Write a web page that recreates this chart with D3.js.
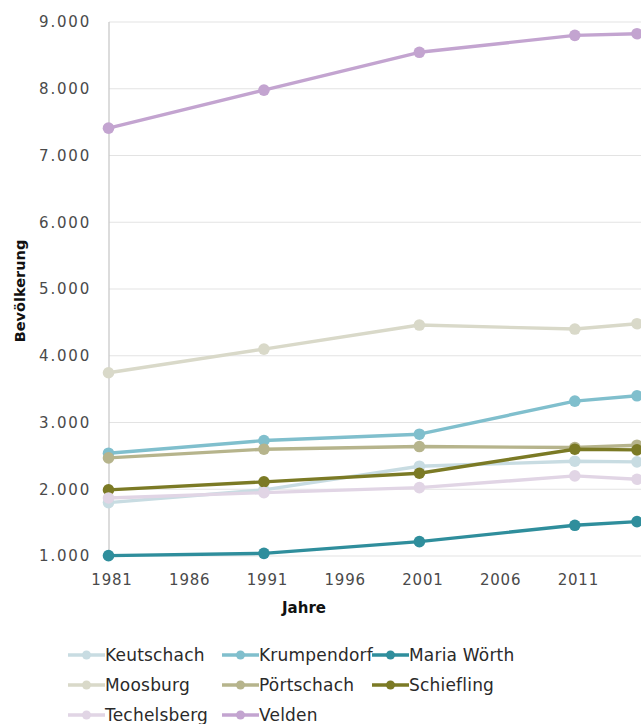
<!DOCTYPE html>
<html>
<head>
<meta charset="utf-8">
<script src="https://cdn.jsdelivr.net/npm/d3@7"></script>
<style>
  html, body { margin: 0; padding: 0; background: #fff; }
  svg { display: block; font-family: "DejaVu Sans", sans-serif; }
</style>
</head>
<body>
<svg id="chart" width="641" height="724"></svg>
<script>
// Census years and population per municipality
const years = [1981, 1991, 2001, 2011, 2015];
const municipalities = ["Keutschach", "Krumpendorf", "Maria Wörth", "Moosburg", "Pörtschach", "Schiefling", "Techelsberg", "Velden"];
const keutschach  = [1800, 1990, 2345, 2420, 2410];
const krumpendorf = [2540, 2730, 2825, 3320, 3400];
const mariaWoerth = [1005, 1040, 1215, 1460, 1515];
const moosburg    = [3745, 4100, 4460, 4400, 4480];
const poertschach = [2470, 2600, 2640, 2625, 2660];
const schiefling  = [1990, 2110, 2240, 2600, 2590];
const techelsberg = [1870, 1950, 2025, 2200, 2150];
const velden      = [7410, 7980, 8546, 8800, 8825];
const colors = ["#c8dce2", "#80bfcd", "#2f8e9c", "#d9d9c9", "#b6b48c", "#7b7a25", "#e1d5e5", "#c3a4d0"];
const yTicks = [1000, 2000, 3000, 4000, 5000, 6000, 7000, 8000, 9000];
const xTicks = [1981, 1986, 1991, 1996, 2001, 2006, 2011];
const xTitle = "Jahre";
const yTitle = "Bevölkerung";

const seriesValues = [keutschach, krumpendorf, mariaWoerth, moosburg, poertschach, schiefling, techelsberg, velden];
const series = municipalities.map((name, i) => ({
  name, color: colors[i],
  points: years.map((y, j) => ({ year: y, value: seriesValues[i][j] }))
}));

const svg = d3.select("#chart");
const plotLeft = 109, plotRight = 641, plotTop = 22, plotBottom = 556;

const x = d3.scaleLinear().domain([1981, 2015]).range([108.5, 637]);
const y = d3.scaleLinear().domain([1000, 9000]).range([plotBottom, plotTop]);
const fmt = v => d3.format(",")(v).replace(/,/g, ".");

// horizontal gridlines
svg.append("g").selectAll("line").data(yTicks).join("line")
  .attr("x1", plotLeft).attr("x2", plotRight)
  .attr("y1", d => y(d)).attr("y2", d => y(d))
  .attr("stroke", "#e3e3e3").attr("stroke-width", 1.2);

// vertical axis line
svg.append("line")
  .attr("x1", plotLeft).attr("x2", plotLeft).attr("y1", plotTop).attr("y2", plotBottom)
  .attr("stroke", "#c9c9c9").attr("stroke-width", 1.3);

// y tick labels
const yAxis = d3.axisLeft(y).tickValues(yTicks).tickFormat(fmt).tickSize(0).tickPadding(18);
const gy = svg.append("g").attr("transform", `translate(${plotLeft},0)`).call(yAxis);
gy.select(".domain").remove();
gy.selectAll("text").attr("font-size", 15).attr("fill", "#4a4a4a")
  .attr("font-family", "DejaVu Sans").attr("letter-spacing", "1.8px");

// x tick labels
const xAxis = d3.axisBottom(x).tickValues(xTicks).tickFormat(d3.format("d")).tickSize(0).tickPadding(18);
const gx = svg.append("g").attr("transform", `translate(3,${plotBottom})`).call(xAxis);
gx.select(".domain").remove();
gx.selectAll("text").attr("font-size", 15).attr("fill", "#4a4a4a")
  .attr("font-family", "DejaVu Sans").attr("letter-spacing", "0.8px");

// axis titles
svg.append("text").attr("x", 304).attr("y", 613).attr("text-anchor", "middle")
  .attr("font-size", 15).attr("font-weight", "bold").attr("fill", "#111").text(xTitle);
svg.append("text").attr("transform", "translate(25,291) rotate(-90)").attr("text-anchor", "middle")
  .attr("font-size", 14.5).attr("font-weight", "bold").attr("fill", "#111").text(yTitle);

// series lines and markers
const line = d3.line().x(d => x(d.year)).y(d => y(d.value));
const gs = svg.append("g").selectAll("g").data(series).join("g");
gs.append("path").attr("d", d => line(d.points)).attr("fill", "none")
  .attr("stroke", d => d.color).attr("stroke-width", 3.4).attr("stroke-linejoin", "round");
gs.selectAll("circle").data(d => d.points.map(p => ({ ...p, color: d.color }))).join("circle")
  .attr("cx", d => x(d.year)).attr("cy", d => y(d.value)).attr("r", 5.8)
  .attr("fill", d => d.color);

// legend: three columns, three rows
const colX = [68, 222, 372];
const rowY = [655, 685, 715];
const lg = svg.append("g").selectAll("g").data(series).join("g")
  .attr("transform", (d, i) => `translate(${colX[i % 3]},${rowY[Math.floor(i / 3)]})`);
lg.append("line").attr("x1", 0).attr("x2", 37).attr("y1", 0).attr("y2", 0)
  .attr("stroke", d => d.color).attr("stroke-width", 3.5);
lg.append("circle").attr("cx", 18.5).attr("cy", 0).attr("r", 4.5).attr("fill", d => d.color);
lg.append("text").attr("x", 37).attr("y", 0).attr("dy", "0.36em")
  .attr("font-size", 17).attr("fill", "#2a2a2a").attr("letter-spacing", "0.2px")
  .text(d => d.name);
</script>
</body>
</html>
